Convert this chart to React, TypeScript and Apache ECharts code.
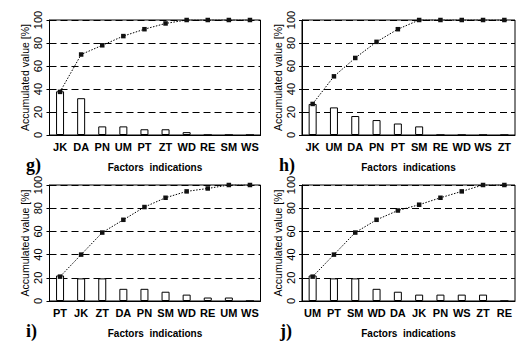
import React, { useEffect, useRef } from "react";
import * as echarts from "echarts";

const catsG = ["JK", "DA", "PN", "UM", "PT", "ZT", "WD", "RE", "SM", "WS"];
const barsG = [38, 32, 7.5, 7.5, 5, 5, 2.5, 0, 0, 0];
const cumG = [37.5, 70, 78, 86, 92, 97, 100, 100, 100, 100];

const catsH = ["JK", "UM", "DA", "PN", "PT", "SM", "RE", "WD", "WS", "ZT"];
const barsH = [27, 24, 16.5, 13, 10, 7.5, 0, 0, 0, 0];
const cumH = [27, 51, 67, 81, 92, 100, 100, 100, 100, 100];

const catsI = ["PT", "JK", "ZT", "DA", "PN", "SM", "WD", "RE", "UM", "WS"];
const barsI = [22, 19.5, 19.5, 10.5, 10.5, 8, 5.5, 3, 3, 0];
const cumI = [21, 40, 59, 70, 81, 89, 94.5, 97, 100, 100];

const catsJ = ["UM", "PT", "SM", "WD", "DA", "JK", "PN", "WS", "ZT", "RE"];
const barsJ = [22, 19.5, 19.5, 10.5, 8, 5.5, 5.5, 5.5, 5.5, 0];
const cumJ = [21, 40, 59, 70, 78, 83, 89, 94.5, 100, 100];

const panelLabels = ["g)", "h)", "i)", "j)"];
const yTitle = "Accumulated value [%]";
const xTitle = "Factors  indications";

const panels = [
  { cats: catsG, bars: barsG, cum: cumG },
  { cats: catsH, bars: barsH, cum: cumH },
  { cats: catsI, bars: barsI, cum: cumI },
  { cats: catsJ, bars: barsJ, cum: cumJ },
];

const grids = [
  { left: 49.5, top: 20, width: 211, height: 115 },
  { left: 302, top: 20, width: 213, height: 115 },
  { left: 49.5, top: 185, width: 211, height: 116 },
  { left: 302, top: 185, width: 213, height: 116 },
];

const labelPos = [
  { x: 26, y: 165 },
  { x: 279, y: 165 },
  { x: 26, y: 331 },
  { x: 280, y: 331 },
];

const FONT = "'Liberation Sans', Arial, sans-serif";

export default function App() {
  const ref = useRef<HTMLDivElement>(null);
  useEffect(() => {
    if (!ref.current) return;
    const chart = echarts.init(ref.current, null, { renderer: "svg" });
    const option: any = {
      animation: false,
      backgroundColor: "#fff",
      grid: grids.map((g) => ({
        ...g,
        show: true,
        borderColor: "#000",
        borderWidth: 1,
        backgroundColor: "transparent",
      })),
      xAxis: panels.map((p, i) => ({
        type: "category",
        gridIndex: i,
        data: p.cats,
        axisLine: { lineStyle: { color: "#000", width: 1 } },
        axisTick: { alignWithLabel: true, length: 3, lineStyle: { color: "#000" } },
        axisLabel: {
          color: "#000",
          fontFamily: FONT,
          fontWeight: "bold",
          fontSize: 11,
          margin: 6,
          interval: 0,
        },
        name: xTitle,
        nameLocation: "middle",
        nameGap: 27,
        nameTextStyle: { color: "#000", fontFamily: FONT, fontWeight: "bold", fontSize: 10 },
      })),
      yAxis: panels.map((p, i) => ({
        type: "value",
        gridIndex: i,
        min: 0,
        max: 100,
        interval: 20,
        axisLine: { show: true, lineStyle: { color: "#000", width: 1 } },
        axisTick: { show: true, length: 3, lineStyle: { color: "#000" } },
        axisLabel: {
          color: "#000",
          fontFamily: FONT,
          fontSize: 11,
          rotate: 90,
          margin: 6,
        },
        splitLine: { show: true, lineStyle: { color: "#000", type: [7, 4], width: 1 } },
        name: yTitle,
        nameLocation: "middle",
        nameRotate: 90,
        nameGap: 19,
        nameTextStyle: { color: "#000", fontFamily: FONT, fontSize: 10.5 },
      })),
      series: panels.flatMap((p, i) => [
        {
          type: "bar",
          xAxisIndex: i,
          yAxisIndex: i,
          data: p.bars,
          barWidth: 8,
          itemStyle: { color: "#fff", borderColor: "#000", borderWidth: 1 },
          silent: true,
        },
        {
          type: "line",
          xAxisIndex: i,
          yAxisIndex: i,
          data: p.cum,
          symbol: "rect",
          symbolSize: 4.5,
          itemStyle: { color: "#111" },
          lineStyle: { color: "#000", width: 1, type: [1.5, 1.5] },
          z: 5,
        },
      ]),
      graphic: panelLabels.map((t, i) => ({
        type: "text",
        x: labelPos[i].x,
        y: labelPos[i].y,
        style: {
          text: t,
          font: "bold 18px 'Liberation Serif', 'Times New Roman', serif",
          fill: "#000",
          verticalAlign: "middle",
        },
      })),
    };
    chart.setOption(option);
    return () => chart.dispose();
  }, []);
  return <div ref={ref} style={{ width: 526, height: 350, position: "absolute", left: 0, top: 0 }} />;
}
